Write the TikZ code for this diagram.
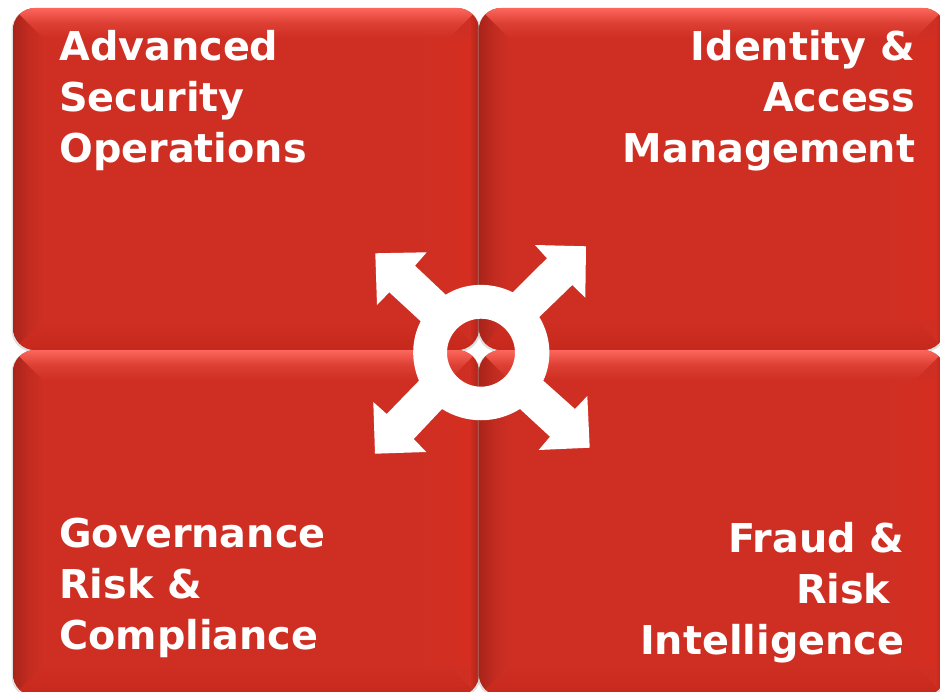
\documentclass[tikz,border=0pt]{standalone}
\usepackage{fontspec}
\setmainfont{DejaVu Sans}
\usetikzlibrary{calc}
\definecolor{basered}{HTML}{CF2F23}
\definecolor{brightred}{HTML}{D52E21}
\definecolor{hilite}{HTML}{FD665C}
\definecolor{midlite}{HTML}{DD3F33}
\definecolor{lowred}{HTML}{C6281B}
\definecolor{sidedark}{HTML}{A8241A}
\tikzset{
  x=0.75pt,y=-0.75pt,
  paneltext/.style={font=\bfseries\fontsize{29.8pt}{38.2pt}\selectfont,text=white,inner sep=0pt},
  hub/.style={fill=white,even odd rule},
}
% x1 y1 x2 y2 name
\newcommand{\panel}[5]{%
  \coordinate (#5) at ({(#1+#3)/2},{(#2+#4)/2});
  \fill[black!35,opacity=.35,rounded corners=16.5pt] ({#1-1.5},{#2+0.5}) rectangle ({#3+1.5},{#4+2});
  \begin{scope}
    \clip[rounded corners=16.5pt] (#1,#2) rectangle (#3,#4);
    \fill[basered] (#1,#2) rectangle (#3,#4);
    % left edge: dark, fading inward
    \shade[left color=sidedark,right color=basered,middle color=basered!65!sidedark]
      (#1,#2) -- ({#1+30},{#2+30}) -- ({#1+30},{#4-30}) -- (#1,#4) -- cycle;
    % right edge: a brighter band, then dark at the very edge
    \shade[left color=basered,right color=brightred]
      ({#3-60},{#2+30}) rectangle ({#3-10},{#4-30});
    \shade[left color=brightred,right color=sidedark]
      ({#3-10},{#2+10}) -- (#3,#2) -- (#3,#4) -- ({#3-10},{#4-10}) -- cycle;
    % top bevel
    \shade[top color=hilite,bottom color=basered,middle color=midlite]
      (#1,#2) -- (#3,#2) -- ({#3-30},{#2+30}) -- ({#1+30},{#2+30}) -- cycle;
    % bottom bevel
    \shade[top color=basered,bottom color=lowred]
      (#1,#4) -- (#3,#4) -- ({#3-30},{#4-30}) -- ({#1+30},{#4-30}) -- cycle;
  \end{scope}
}
\begin{document}
\begin{tikzpicture}
\useasboundingbox (0,0) rectangle (940,692);
\begin{scope}
\clip (0,0) rectangle (940,692);
\fill[white] (0,0) rectangle (940,692);
\panel{13}{8}{479}{350}{tl}
\panel{479}{8}{945}{350}{tr}
\panel{13}{350}{479}{696}{bl}
\panel{479}{350}{945}{696}{br}
\end{scope}
\node[paneltext,align=left,anchor=north west] (advsec) at (59,30.5) {Advanced\\Security\\Operations};
\node[paneltext,align=right,anchor=north east] (iam) at (915.5,30.5) {Identity \&\\Access\\Management};
\node[paneltext,align=left,anchor=north west] (grc) at (59,518) {Governance\\Risk \&\\Compliance};
\node[paneltext,align=right,anchor=north east] (fri) at (904.5,522) {Fraud \&\\Risk~~\\Intelligence};
\coordinate (hubc) at (481,352.7);
\path[hub]
  (hubc) circle[radius=34]
  (445.7,294.7) -- (415,265.7) -- (426.7,252.3) -- (375.3,253.3) -- (377,305) -- (389.3,292.3) -- (420.7,321.3)
  .. controls (411,340) and (411,362) .. (419,380.7) -- (386.7,414) -- (373.3,402) -- (375,453.7) -- (426.3,452) -- (413.7,439) -- (442,409)
  .. controls (466,424) and (496,424) .. (520,409) -- (550,436.7) -- (538.7,450) -- (589.7,447.7) -- (587.3,396) -- (575,409) -- (543.3,380.7)
  .. controls (552,362) and (552,338) .. (539.3,317) -- (572.3,285) -- (585.3,297.7) -- (586,246.3) -- (535,245) -- (547,258.3) -- (512.7,292.3)
  .. controls (492,282) and (466,282) .. (445.7,294.7) -- cycle;
\end{tikzpicture}
\end{document}
